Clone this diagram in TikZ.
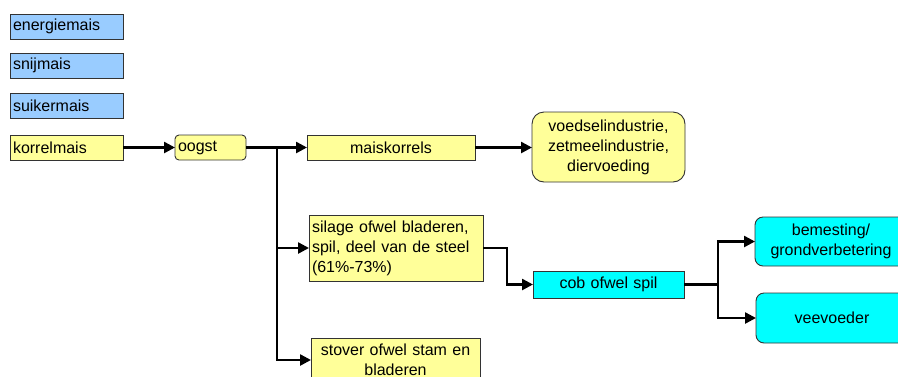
\documentclass[tikz,border=0pt]{standalone}
\usepackage{fontspec}
\setmainfont{Liberation Sans}
\usetikzlibrary{arrows.meta}
\definecolor{boxblue}{HTML}{99CCFF}
\definecolor{boxyellow}{HTML}{FFFF99}
\definecolor{boxcyan}{HTML}{00FFFF}
\definecolor{edgegray}{HTML}{333333}
\tikzset{
  base/.style={draw=edgegray, line width=0.9pt, anchor=north west,
    font=\fontsize{16}{20}\selectfont, inner sep=0pt, outer sep=0pt},
  leftbox/.style={base, align=left, text width=#1-6pt, minimum width=#1},
  midbox/.style={base, align=center, text width=#1, minimum width=#1},
  blue/.style={fill=boxblue},
  yellow/.style={fill=boxyellow},
  cyan/.style={fill=boxcyan},
  link/.style={line width=2.5pt, -{Triangle[length=11pt,width=11pt]}},
  plain/.style={line width=2.5pt}
}
\begin{document}
\begin{tikzpicture}[x=1pt,y=-1pt]
\useasboundingbox (0,0) rectangle (898,376);
\fill[white] (0,0) rectangle (898,376);

% maize types
\node[leftbox=113pt, blue, minimum height=25pt] (energie) at (10,14) {energiemais};
\node[leftbox=113pt, blue, minimum height=25pt] (snij) at (10,53) {snijmais};
\node[leftbox=113pt, blue, minimum height=25pt] (suiker) at (10,93) {suikermais};
\node[leftbox=113pt, yellow, minimum height=25pt] (korrel) at (10,135) {korrelmais};

% harvest and products
\node[leftbox=71pt, yellow, minimum height=25pt, rounded corners=4pt] (oogst) at (175,135) {oogst};
\node[midbox=168pt, yellow, minimum height=25pt] (maiskorrels) at (307,135) {maiskorrels};
\node[midbox=153pt, yellow, minimum height=70pt, rounded corners=12pt] (voedsel) at (532,112)
  {voedselindustrie,\\zetmeelindustrie,\\diervoeding};
\node[leftbox=174pt, yellow, minimum height=66pt] (silage) at (309,215)
  {silage ofwel bladeren,\\spil, deel van de steel\\(61\%-73\%)};
\node[midbox=169pt, yellow, minimum height=44pt, anchor=north west, text depth=20pt] (stover) at (311,338)
  {stover ofwel stam en\\bladeren};

% cob products
\node[midbox=151pt, cyan, minimum height=27pt] (cob) at (533,271) {cob ofwel spil};
\node[midbox=152pt, cyan, minimum height=49pt, rounded corners=8pt] (bemesting) at (755,217)
  {bemesting/\\grondverbetering};
\node[midbox=152pt, cyan, minimum height=50pt, rounded corners=8pt] (veevoeder) at (756,293) {veevoeder};

% connectors
\coordinate (split) at (oogst.east -| 277,0);
\coordinate (split2) at (cob.east -| 718,0);
\coordinate (stoverin) at (311,360);

\draw[link] (korrel.east) -- (korrel.east -| oogst.west);
\draw[link] (oogst.east) -- (oogst.east -| maiskorrels.west);
\draw[link] (maiskorrels.east) -- (voedsel.west |- maiskorrels.east);
\draw[link] (split) |- (silage.west);
\draw[link] (split) |- (stoverin);
\draw[link] (silage.east) -- ++(24,0) |- (cob.west);
\draw[plain] (cob.east) -- (split2);
\draw[link] (split2) |- (bemesting.west);
\draw[link] (split2) |- (veevoeder.west);
\end{tikzpicture}
\end{document}
